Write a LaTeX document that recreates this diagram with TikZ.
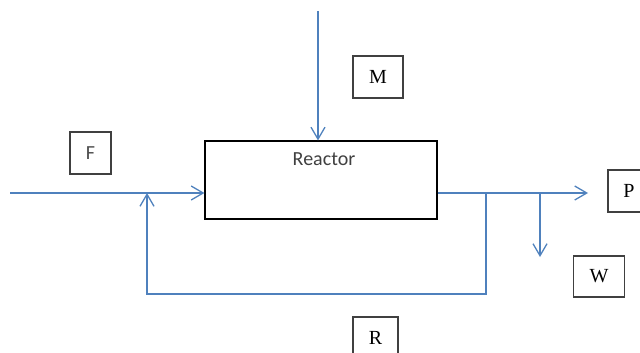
\documentclass[tikz,border=0pt]{standalone}
\usepackage{fontspec}
\setmainfont{Liberation Serif}
\newfontfamily\calib{Carlito}
\usetikzlibrary{arrows.meta}
\definecolor{flowblue}{HTML}{4F81BD}
\definecolor{boxgray}{HTML}{404040}
\tikzset{
  flow/.style={draw=flowblue, line width=1.3pt},
  flowarr/.style={flow, -{Straight Barb[length=12pt,width=14pt,line width=1.3pt]}},
  tagbox/.style={draw=boxgray, line width=1.5pt, fill=white, inner sep=0pt, font=\fontsize{20}{22}\selectfont},
  reactorbox/.style={draw=black, line width=1.1pt, minimum width=232pt, minimum height=78pt, inner sep=0pt}
}
\begin{document}
\begin{tikzpicture}[x=1pt,y=-1pt]
\useasboundingbox (0,0) rectangle (640,353);
\begin{scope}
\clip (0,0) rectangle (640,353);
\node[reactorbox, label={[anchor=north, inner sep=0pt, label distance=0pt, yshift=-12pt, xshift=3pt, font=\calib\fontsize{20}{22}\selectfont, text=black!75]north:Reactor}] (reactor) at (321,180) {};
\node[tagbox, minimum width=41pt, minimum height=42pt, font=\calib\fontsize{20}{22}\selectfont, text=black!70] (F) at (90.5,153) {F};
\node[tagbox, minimum width=50pt, minimum height=42pt] (M) at (378,77) {M};
\node[tagbox, minimum width=42pt, minimum height=42pt] (P) at (629,191) {P};
\node[tagbox, minimum width=51pt, minimum height=41pt] (W) at (599,276.5) {W};
\node[tagbox, minimum width=45pt, minimum height=41pt] (R) at (375.5,337.5) {R};

\coordinate (fin) at (10,193);
\coordinate (mtop) at (318,11);
\coordinate (pout) at (588,193);
\coordinate (rsplit) at (486,193);
\coordinate (wsplit) at (540,193);
\coordinate (wend) at (540,257);
\coordinate (rjoin) at (147,193);
\coordinate (rbot) at (147,294);

\draw[flowarr] (fin) -- (fin -| reactor.west);
\draw[flowarr] (mtop) -- (mtop |- reactor.north);
\draw[flowarr] (fin -| reactor.east) -- (pout);
\draw[flowarr] (wsplit) -- (wend);
\draw[flowarr] (rsplit) |- (rbot) -- (rjoin);
\end{scope}
\end{tikzpicture}
\end{document}
